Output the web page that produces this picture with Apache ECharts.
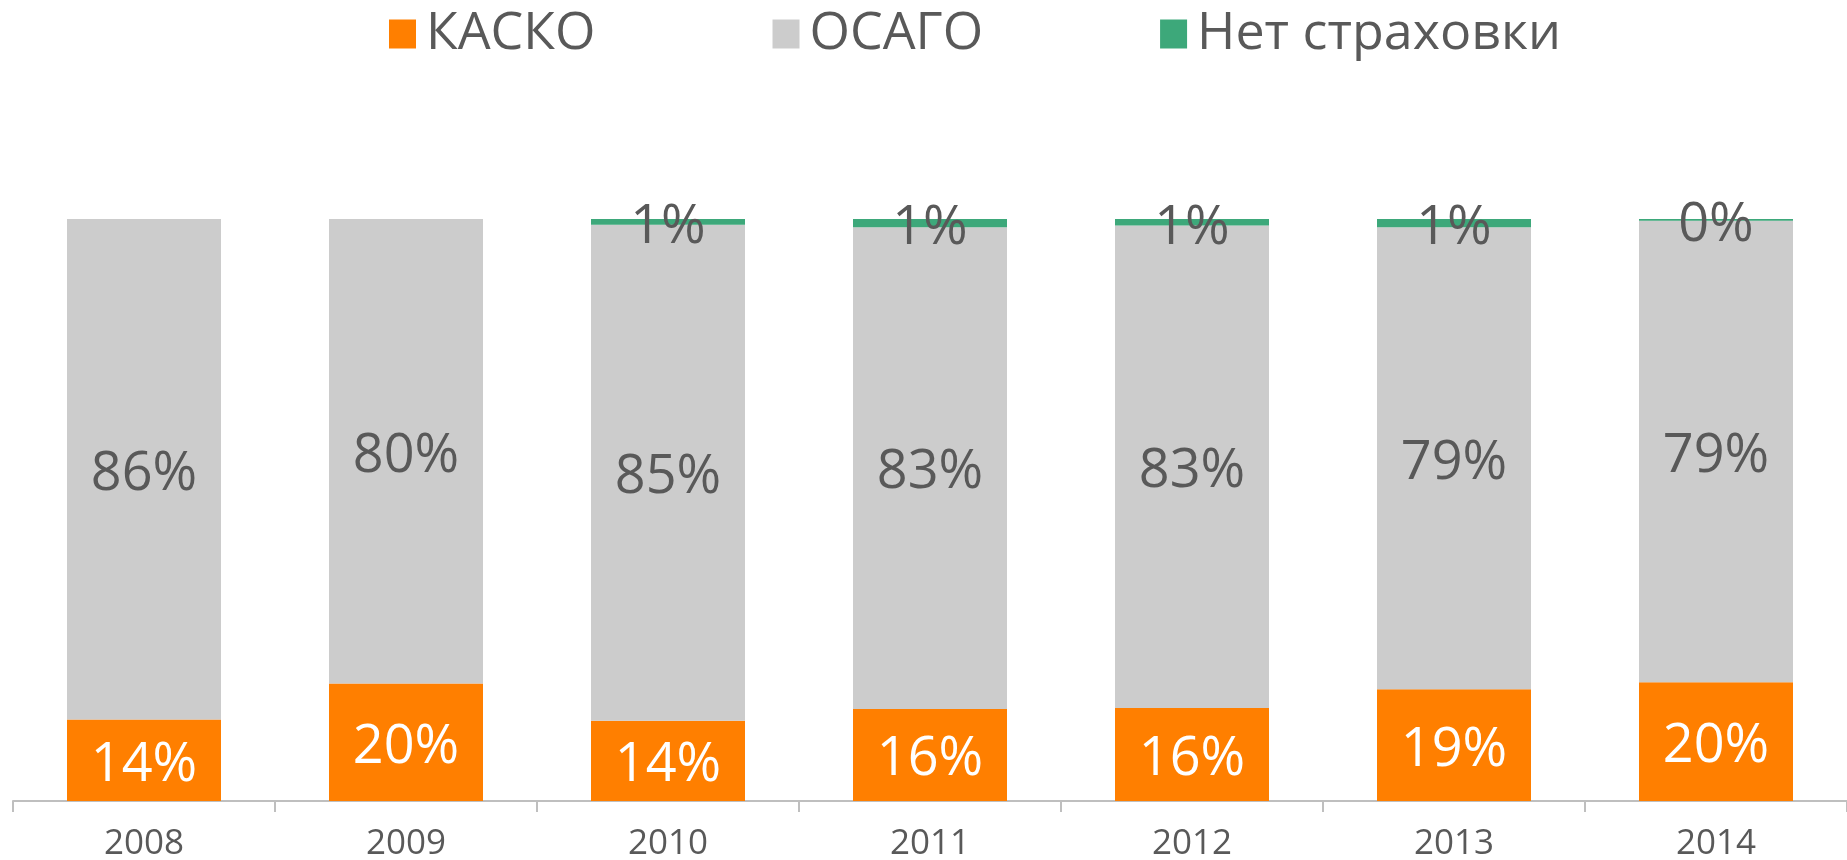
<!DOCTYPE html>
<html>
<head>
<meta charset="utf-8">
<script src="https://cdn.jsdelivr.net/npm/echarts@6/dist/echarts.min.js"></script>
<style>
html, body { margin: 0; padding: 0; background: #fff; }
#main { width: 1847px; height: 860px; }
</style>
</head>
<body>
<div id="main"></div>
<script type="text/javascript">
var years = ['2008', '2009', '2010', '2011', '2012', '2013', '2014'];
var kasko = [14.0, 20.2, 13.8, 15.8, 16.0, 19.2, 20.4];
var osago = [86.0, 79.8, 85.2, 82.8, 82.9, 79.4, 79.3];
var noIns = [0, 0, 1.0, 1.4, 1.1, 1.4, 0.3];

var myChart = echarts.init(document.getElementById('main'));

function pct(p) {
    if (!p.value) return '';
    return Math.round(p.value) + '%';
}

var option = {
    animation: false,
    textStyle: { fontFamily: 'Open Sans' },
    legend: {
        left: 384,
        top: 3,
        itemWidth: 27,
        itemHeight: 29,
        itemGap: 177,
        icon: 'rect',
        textStyle: { fontSize: 52, color: '#595959', fontFamily: 'Open Sans', padding: [0, 0, 0, 5] },
        data: ['КАСКО', 'ОСАГО', 'Нет страховки']
    },
    grid: { left: 13, right: 0, top: 219, bottom: 59, containLabel: false, outerBoundsMode: 'none' },
    xAxis: {
        type: 'category',
        data: years,
        axisLine: { lineStyle: { color: '#BFBFBF', width: 2 } },
        axisTick: { show: true, length: 11, lineStyle: { color: '#BFBFBF', width: 2 } },
        axisLabel: { fontSize: 35, color: '#595959', margin: 26, fontFamily: 'Open Sans' }
    },
    yAxis: {
        type: 'value',
        min: 0,
        max: 100,
        show: false
    },
    series: [
        {
            name: 'КАСКО',
            type: 'bar',
            stack: 'total',
            barWidth: 154,
            itemStyle: { color: '#FF7F00' },
            label: { show: true, position: 'inside', offset: [0, 5], fontSize: 54, color: '#FFFFFF', fontFamily: 'Open Sans', formatter: pct },
            data: kasko
        },
        {
            name: 'ОСАГО',
            type: 'bar',
            stack: 'total',
            itemStyle: { color: '#CCCCCC' },
            label: { show: true, position: 'inside', offset: [0, 5], fontSize: 54, color: '#595959', fontFamily: 'Open Sans', formatter: pct },
            data: osago
        },
        {
            name: 'Нет страховки',
            type: 'bar',
            stack: 'total',
            itemStyle: { color: '#3DA87A' },
            label: { show: true, position: 'inside', offset: [0, 6], fontSize: 54, color: '#595959', fontFamily: 'Open Sans', formatter: pct },
            data: noIns
        }
    ]
};

myChart.setOption(option);
</script>
</body>
</html>
